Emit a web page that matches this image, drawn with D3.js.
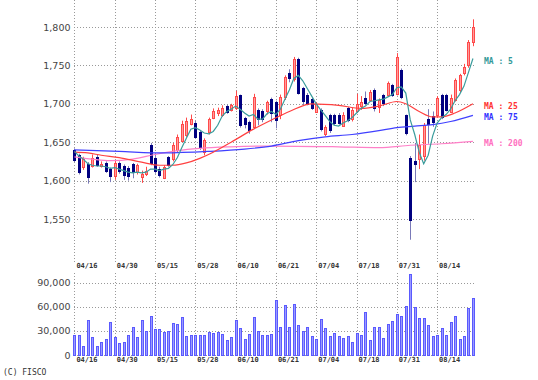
<!DOCTYPE html>
<html><head><meta charset="utf-8">
<script src="https://cdn.jsdelivr.net/npm/d3@7"></script>
<style>
html,body{margin:0;padding:0;background:#fff;}
svg{display:block;}
</style></head>
<body>
<svg id="chart" width="538" height="380"></svg>
<script>
// ---- data ----
const dateLabels = ["04/16","04/30","05/15","05/28","06/10","06/21","07/04","07/18","07/31","08/14"];
const dateIndex  = [0,9,18,27,36,45,54,63,72,81];
const priceTicks = [1550,1600,1650,1700,1750,1800];
const volumeTicks = [0,30000,60000,90000];

const open  = [1640,1633,1617,1622,1619,1631,1619,1623,1615,1606, 1623,1619,1617,1621,1611,1604,1609,1646,1630,1615, 1604,1631,1628,1640,1652,1660,1674,1675,1663,1637,
               1663,1682,1688,1686,1697,1692,1695,1711,1681,1676, 1670,1692,1690,1690,1706,1702,1685,1709,1740,1732, 1758,1720,1712,1706,1690,1692,1661,1685,1685,1686,
               1672,1694,1680,1691,1697,1707,1706,1718,1696,1711, 1711,1724,1713,1744,1685,1630,1626,1628,1632,1680, 1684,1685,1711,1711,1690,1705,1718,1740,1750,1780];
const high  = [1642,1635,1631,1624,1634,1634,1625,1625,1617,1626, 1625,1621,1619,1623,1622,1613,1618,1649,1634,1618, 1620,1632,1649,1660,1678,1682,1686,1678,1665,1655,
               1682,1694,1695,1698,1699,1700,1717,1712,1683,1678, 1713,1694,1693,1704,1708,1704,1712,1737,1745,1761, 1760,1722,1714,1708,1702,1694,1672,1687,1687,1688,
               1689,1696,1695,1713,1710,1716,1718,1720,1707,1713, 1729,1726,1766,1746,1686,1632,1649,1660,1675,1693, 1690,1710,1713,1713,1712,1733,1739,1752,1783,1810];
const low   = [1624,1608,1614,1596,1617,1618,1617,1610,1598,1601, 1609,1601,1600,1603,1608,1597,1606,1620,1609,1604, 1602,1618,1625,1637,1650,1657,1672,1655,1640,1633,
               1660,1680,1684,1683,1687,1690,1692,1669,1668,1661, 1667,1672,1676,1686,1676,1668,1680,1705,1728,1729, 1712,1698,1698,1692,1688,1664,1658,1662,1672,1673,
               1670,1676,1677,1688,1692,1698,1704,1690,1688,1697, 1709,1709,1711,1706,1659,1523,1598,1615,1626,1648, 1670,1682,1680,1690,1689,1703,1715,1737,1747,1775];
const close = [1627,1611,1628,1605,1630,1621,1622,1612,1606,1623, 1612,1607,1606,1610,1620,1608,1613,1622,1613,1607, 1618,1621,1646,1657,1674,1678,1680,1657,1643,1653,
               1680,1691,1692,1695,1689,1698,1710,1672,1673,1665, 1709,1680,1680,1702,1688,1678,1709,1735,1733,1758, 1714,1703,1700,1694,1700,1667,1670,1665,1674,1675,
               1686,1678,1692,1700,1702,1700,1716,1694,1705,1700, 1727,1711,1761,1709,1661,1549,1622,1646,1672,1674, 1676,1707,1683,1692,1708,1731,1737,1748,1780,1800];
const volume = [24500,24500,11400,43000,22000,11400,15600,20000,41000,22000, 14300,15600,25000,34600,22000,43000,30400,49000,32500,32500,
                28300,29500,39700,38800,47000,23000,25000,24500,24500,25000, 28300,27400,29000,26000,19000,22000,43000,33800,19800,26000,
                47000,29500,25000,25000,26000,68000,34600,62000,34600,63000, 36700,29500,34600,23000,20000,45000,33800,23000,27000,23000,
                21000,24000,15600,27000,25000,54000,18600,34600,34600,21000, 38800,41800,50600,48500,61000,100000,59000,46000,46000,36700,
                23000,25000,33800,25000,41000,48500,20000,23000,58000,70500];

const ma5 = [1638,1632,1628,1622,1620,1619,1619,1618,1616,1617, 1615,1613,1611,1610,1611,1610,1611,1615,1615,1613,
             1615,1616,1621,1630,1643,1655,1667,1669,1666,1662, 1661,1664,1672,1684,1690,1693,1697,1693,1688,1684,
             1686,1680,1680,1687,1690,1686,1693,1706,1718,1733, 1737,1730,1720,1710,1700,1692,1685,1677,1672,1671,
             1675,1678,1682,1688,1694,1697,1703,1704,1705,1706, 1709,1712,1721,1722,1714,1679,1660,1637,1622,1633,
             1658,1675,1682,1686,1693,1704,1712,1723,1741,1759];
const ma25Index = [0,3,6,10,15,19,22,25,28,31,35,40,44,48,53,59,64,68,72,74,77,80,82,85,89];
const ma25      = [1637,1636,1633,1630,1624,1620,1620,1623,1629,1637,1650,1667,1679,1690,1700,1698,1694,1697,1703,1700,1690,1683,1683,1688,1700];
const ma75Index = [0,10,20,30,38,44,50,56,62,68,72,76,80,84,89];
const ma75      = [1640,1638,1636,1638,1641,1645,1652,1657,1660,1665,1669,1671,1673,1677,1685];
const ma200Index = [0,4,8,13,18,23,28,35,44,59,68,75,82,89];
const ma200      = [1631,1628,1626,1628,1634,1639,1642,1644,1645,1644,1643,1646,1648,1651];

const maNames  = ["MA : 5","MA : 25","MA : 75","MA : 200"];
const maColors = ["#3a9c9c","#ff4040","#4040ff","#ff80c8"];
const maTextColors = ["#339999","#ff3333","#3333ff","#ff70c0"];

// ---- drawing ----
const svg = d3.select("#chart");
const N = close.length;
const x = d3.scaleLinear().domain([0, N - 1]).range([74.4, 74.4 + (N - 1) * 4.478]);
const y = d3.scaleLinear().domain([1550, 1800]).range([219, 27]);
const yv = d3.scaleLinear().domain([0, 90000]).range([355, 282.5]);
const px = i => Math.round(x(i)) + 0.5;
const gridColor = "#999";
const left = 74, right = 474;

// price grid
const gPrice = svg.append("g");
gPrice.selectAll("line.h").data(priceTicks).join("line")
  .attr("x1", left).attr("x2", right)
  .attr("y1", d => Math.round(y(d)) + 0.5).attr("y2", d => Math.round(y(d)) + 0.5)
  .attr("stroke", gridColor).attr("stroke-dasharray", "1,2");
gPrice.selectAll("line.v").data(dateIndex).join("line")
  .attr("x1", d => px(d)).attr("x2", d => px(d))
  .attr("y1", 0).attr("y2", 262)
  .attr("stroke", gridColor).attr("stroke-dasharray", "1,2");

// volume grid
const gVol = svg.append("g");
gVol.selectAll("line.h").data(volumeTicks).join("line")
  .attr("x1", left).attr("x2", right)
  .attr("y1", d => Math.round(yv(d)) + 0.5).attr("y2", d => Math.round(yv(d)) + 0.5)
  .attr("stroke", gridColor).attr("stroke-dasharray", "1,2");
gVol.selectAll("line.v").data(dateIndex).join("line")
  .attr("x1", d => px(d)).attr("x2", d => px(d))
  .attr("y1", 273).attr("y2", 355)
  .attr("stroke", gridColor).attr("stroke-dasharray", "1,2");

// y axes (labels)
const styleAxis = g => {
  g.select(".domain").remove();
  g.selectAll(".tick line").remove();
  g.selectAll("text").attr("font-family", "DejaVu Sans, Verdana, sans-serif")
    .attr("font-size", "9.5px").attr("fill", "#444");
};
svg.append("g").attr("transform", "translate(74.5,0)")
  .call(d3.axisLeft(y).tickValues(priceTicks).tickFormat(d3.format(",")).tickSize(0).tickPadding(4))
  .call(styleAxis);
svg.append("g").attr("transform", "translate(74.5,0)")
  .call(d3.axisLeft(yv).tickValues(volumeTicks).tickFormat(d3.format(",")).tickSize(0).tickPadding(4))
  .call(styleAxis);

// date labels
const styleDates = g => {
  g.select(".domain").remove();
  g.selectAll(".tick line").remove();
  g.selectAll("text").attr("font-family", "DejaVu Sans Mono, monospace")
    .attr("font-size", "7px").attr("font-weight", "bold").attr("fill", "#333")
    .attr("text-anchor", "start").attr("dx", "1.5");
};
const xAxisScale = d3.scaleLinear().domain(x.domain()).range([x.range()[0] + 0.1, x.range()[1] + 0.1]);
svg.append("g").attr("transform", "translate(0,262)")
  .call(d3.axisBottom(x).tickValues(dateIndex).tickFormat((d, k) => dateLabels[k]).tickSize(0).tickPadding(1))
  .call(styleDates);
svg.append("g").attr("transform", "translate(0,355)")
  .call(d3.axisBottom(x).tickValues(dateIndex).tickFormat((d, k) => dateLabels[k]).tickSize(0).tickPadding(2))
  .call(styleDates);

// MA lines
const lineAll = d3.line().x((d, i) => x(i)).y(d => y(d));
const lineIdx = idx => d3.line().curve(d3.curveMonotoneX).x((d, k) => x(idx[k])).y(d => y(d));
const gMA = svg.append("g").attr("fill", "none").attr("stroke-width", 1.2);
gMA.append("path").datum(ma200).attr("d", lineIdx(ma200Index)).attr("stroke", maColors[3]);
gMA.append("path").datum(ma75).attr("d", lineIdx(ma75Index)).attr("stroke", maColors[2]);
gMA.append("path").datum(ma25).attr("d", lineIdx(ma25Index)).attr("stroke", maColors[1]);

// candles
const candles = d3.range(N).map(i => ({i, o: open[i], h: high[i], l: low[i], c: close[i]}));
const gC = svg.append("g");
gC.selectAll("line.wick").data(candles).join("line")
  .attr("x1", d => px(d.i)).attr("x2", d => px(d.i))
  .attr("y1", d => y(d.h)).attr("y2", d => y(d.l))
  .attr("stroke", d => d.c >= d.o ? "#ff4a4a" : "#7a7ab8").attr("stroke-width", 1);
gC.selectAll("rect.body").data(candles).join("rect")
  .attr("x", d => px(d.i) - 1)
  .attr("width", 2)
  .attr("y", d => Math.round(y(Math.max(d.o, d.c))) + 0.5)
  .attr("height", d => Math.max(1, Math.round(Math.abs(y(d.o) - y(d.c)))))
  .attr("fill", d => d.c >= d.o ? "#ff9c9c" : "#000080")
  .attr("stroke", d => d.c >= d.o ? "#ff4a4a" : "#000080")
  .attr("stroke-width", 1);

// MA5 on top
gMA.raise();
gMA.append("path").datum(ma5).attr("d", lineAll).attr("stroke", maColors[0]);

// volume bars
svg.append("g").selectAll("rect").data(volume).join("rect")
  .attr("x", (d, i) => px(i) - 1)
  .attr("width", 2)
  .attr("y", d => Math.round(yv(d)) + 0.5)
  .attr("height", d => 355 - Math.round(yv(d)))
  .attr("fill", "#9a9aff").attr("stroke", "#5a5aff").attr("stroke-width", 1);

// MA legend
const maLabelY = [61, 106, 117, 143];
svg.append("g").selectAll("text").data(maNames).join("text")
  .attr("x", 484).attr("y", (d, k) => maLabelY[k])
  .attr("dominant-baseline", "middle")
  .attr("font-family", "DejaVu Sans Mono, monospace").attr("font-size", "8px").attr("font-weight", "bold")
  .attr("fill", (d, k) => maTextColors[k]).attr("xml:space", "preserve")
  .text(d => d);

// copyright
svg.append("text").attr("x", 3).attr("y", 372).attr("dominant-baseline", "middle")
  .attr("font-family", "DejaVu Sans Mono, monospace").attr("font-size", "8px").attr("fill", "#333")
  .text("(C) FISCO");
</script>
</body></html>
